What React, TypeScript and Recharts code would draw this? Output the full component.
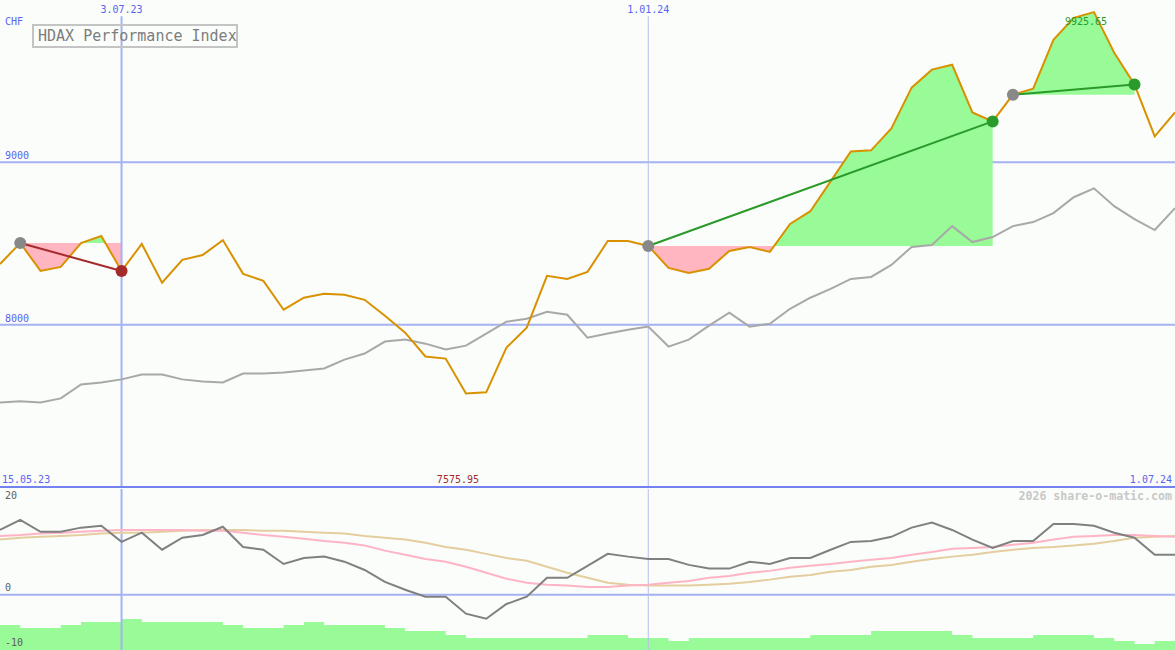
import React from "react";
import {
  ComposedChart,
  Line,
  Area,
  XAxis,
  YAxis,
  CartesianGrid,
  ReferenceLine,
  ReferenceDot,
} from "recharts";

// weekly closes, 15.05.23 .. 1.07.24
const price = [
  8374, 8503, 8331, 8356, 8503, 8546, 8331, 8497, 8258, 8399,
  8429, 8521, 8313, 8270, 8092, 8166, 8190, 8184, 8153, 8055,
  7951, 7804, 7791, 7575.95, 7583, 7859, 7982, 8301, 8282, 8325,
  8515, 8515, 8485, 8350, 8319, 8344, 8454, 8479, 8448, 8620,
  8699, 8883, 9067, 9074, 9209, 9460, 9571, 9601, 9307, 9252,
  9417, 9454, 9755, 9890, 9925.65, 9675, 9479, 9160, 9307,
];

// benchmark (HDAX Performance Index), same scale
const bench = [
  7521, 7528, 7521, 7546, 7632, 7644, 7663, 7693, 7693, 7663,
  7650, 7644, 7699, 7699, 7706, 7718, 7730, 7785, 7822, 7896,
  7908, 7883, 7847, 7871, 7945, 8018, 8037, 8080, 8061, 7920,
  7945, 7969, 7988, 7865, 7908, 7994, 8074, 7988, 8006, 8098,
  8166, 8221, 8282, 8294, 8368, 8479, 8491, 8607, 8509, 8540,
  8607, 8632, 8687, 8785, 8840, 8730, 8650, 8583, 8718,
];

// lower panel
const momentum = [
  14.1, 16.3, 13.7, 13.7, 14.6, 15.0, 11.5, 13.5, 9.8, 12.4,
  13.0, 14.8, 10.4, 9.8, 6.7, 8.0, 8.3, 7.2, 5.4, 2.8,
  1.1, -0.4, -0.4, -4.1, -5.2, -2.0, -0.4, 3.7, 3.7, 6.3,
  8.9, 8.3, 7.8, 7.8, 6.5, 5.7, 5.7, 7.2, 6.7, 8.0,
  8.0, 9.8, 11.5, 11.7, 12.6, 14.6, 15.7, 14.1, 12.0, 10.2,
  11.7, 11.7, 15.4, 15.4, 15.0, 13.5, 12.4, 8.7, 8.7,
];

const maFast = [
  12.8, 13.0, 13.3, 13.5, 13.7, 13.9, 14.1, 14.1, 14.1, 14.1,
  13.9, 13.9, 13.5, 13.0, 12.6, 12.2, 11.7, 11.3, 10.7, 9.6,
  8.7, 7.8, 7.2, 6.1, 4.8, 3.5, 2.6, 2.2, 2.0, 1.7,
  1.7, 2.0, 2.2, 2.6, 3.0, 3.7, 4.1, 4.8, 5.2, 5.9,
  6.3, 6.7, 7.2, 7.6, 8.0, 8.7, 9.3, 10.0, 10.2, 10.4,
  10.9, 11.3, 12.0, 12.6, 12.8, 13.0, 13.0, 12.8, 12.6,
];

const maSlow = [
  12.0, 12.4, 12.6, 12.8, 13.0, 13.3, 13.5, 13.5, 13.7, 13.9,
  14.1, 14.1, 14.1, 13.9, 13.9, 13.7, 13.5, 13.3, 12.8, 12.4,
  12.0, 11.3, 10.4, 9.8, 8.9, 8.0, 7.4, 6.1, 4.8, 3.7,
  2.6, 2.2, 2.0, 2.0, 2.0, 2.2, 2.4, 2.8, 3.3, 3.9,
  4.3, 5.0, 5.4, 6.1, 6.5, 7.2, 7.8, 8.3, 8.7, 9.3,
  9.8, 10.2, 10.4, 10.7, 11.1, 11.7, 12.4, 12.6, 12.8,
];

const volume = [
  25, 22, 22, 25, 28, 28, 31, 28, 28, 28,
  28, 25, 22, 22, 25, 28, 25, 25, 25, 22,
  19, 19, 15, 12, 12, 12, 12, 12, 12, 15,
  15, 12, 12, 9, 12, 12, 12, 12, 12, 12,
  15, 15, 15, 19, 19, 19, 19, 15, 12, 12,
  12, 15, 15, 15, 12, 9, 6, 9, 9,
];

// trades: entry / exit week index
const tradeEntry = [1, 32, 50];
const tradeExit = [6, 49, 56];

const dateTickIdx = [6, 32];
const dateTickLabels = ["3.07.23", "1.01.24"];
const startLabel = "15.05.23";
const endLabel = "1.07.24";
const gridValues = [8000, 9000];
const lowerLabels = [20, 0, -10];

const MONO = "'DejaVu Sans Mono', monospace";
const BG = "#FAFDFA";
const GRID = "#A6B2F2";
const BLUE_TXT = "#5A64F0";
const GAIN = "#98FB98";
const LOSS = "#FFB6C1";
const tradeColors = ["#A52A2A", "#2A9A2A", "#2A9A2A"];

const last = price.length - 1;
const minIdx = price.indexOf(Math.min(...price));
const maxIdx = price.indexOf(Math.max(...price));

const rows = price.map((p, i) => {
  const row: any = {
    i,
    price: p,
    bench: bench[i],
    mom: momentum[i],
    fast: maFast[i],
    slow: maSlow[i],
    vol: volume[i],
  };
  tradeEntry.forEach((s, k) => {
    const e = tradeExit[k];
    row[`fill${k}`] = i >= s && i <= e ? [price[s], p] : null;
    row[`trade${k}`] = i === s || i === e ? p : null;
  });
  return row;
});

const fillOffsets = tradeEntry.map((s, k) => {
  const seg = price.slice(s, tradeExit[k] + 1);
  const level = price[s];
  const hi = Math.max(level, ...seg);
  const lo = Math.min(level, ...seg);
  return (hi - level) / (hi - lo);
});

type Anchor = "start" | "middle" | "end";
const tag =
  (text: string, fill: string, anchor: Anchor, dx: number, dy: number, size = 10, weight: any = "normal") =>
  (p: any) => {
    const vb = p.viewBox || {};
    const cx = (vb.x ?? 0) + (vb.width ?? 0) / 2;
    const cy = (vb.y ?? 0) + (vb.height ?? 0) / 2;
    return (
      <text x={cx + dx} y={cy + dy} fill={fill} fontSize={size} fontFamily={MONO} fontWeight={weight} textAnchor={anchor}>
        {text}
      </text>
    );
  };

const mark = (key: string, x: number, y: number, content: any, yAxisId?: string) => (
  <ReferenceDot
    key={key}
    x={x}
    y={y}
    r={1}
    fill="none"
    stroke="none"
    ifOverflow="visible"
    label={content}
    {...(yAxisId ? { yAxisId } : {})}
  />
);

const tradeDot = (k: number) => (props: any) => {
  const { cx, cy, index, value } = props;
  if (cx == null || cy == null || value == null) return <g key={`t${k}-${index}`} />;
  const fill = index === tradeEntry[k] ? "#888888" : tradeColors[k];
  return <circle key={`t${k}-${index}`} cx={cx} cy={cy} r={6} fill={fill} stroke="none" />;
};

export default function App() {
  return (
    <div style={{ position: "absolute", left: 0, top: 0, width: 1175, height: 650, background: BG, overflow: "hidden" }}>
      <div style={{ position: "absolute", left: 0, top: 0 }}>
        <ComposedChart width={1175} height={489} data={rows} margin={{ top: 0, right: 0, bottom: 2, left: 0 }}>
          <defs>
            {fillOffsets.map((o, k) => (
              <linearGradient key={k} id={`fillGrad${k}`} x1="0" y1="0" x2="0" y2="1">
                <stop offset={o} stopColor={GAIN} />
                <stop offset={o} stopColor={LOSS} />
              </linearGradient>
            ))}
          </defs>
          <XAxis type="number" dataKey="i" domain={[0, last]} hide />
          <YAxis domain={[7000, 10000]} ticks={gridValues} hide allowDataOverflow />
          <CartesianGrid vertical={false} horizontalValues={gridValues} stroke={GRID} strokeWidth={2} />
          {dateTickIdx.map((x, k) => (
            <ReferenceLine
              key={`v${k}`}
              segment={[
                { x, y: 9900 },
                { x, y: 7000 },
              ]}
              stroke={k === 0 ? GRID : "#B6BEEE"}
              strokeWidth={k === 0 ? 2 : 1}
            />
          ))}
          {tradeEntry.map((s, k) => (
            <Area
              key={`f${k}`}
              dataKey={`fill${k}`}
              type="linear"
              stroke="none"
              fill={`url(#fillGrad${k})`}
              fillOpacity={1}
              dot={false}
              activeDot={false}
              isAnimationActive={false}
            />
          ))}
          <Line dataKey="bench" stroke="#A8A8A8" strokeWidth={2} dot={false} activeDot={false} isAnimationActive={false} />
          <Line dataKey="price" stroke="#D99100" strokeWidth={2} dot={false} activeDot={false} isAnimationActive={false} />
          {tradeEntry.map((s, k) => (
            <Line
              key={`t${k}`}
              dataKey={`trade${k}`}
              stroke={tradeColors[k]}
              strokeWidth={2}
              connectNulls
              dot={tradeDot(k)}
              activeDot={false}
              isAnimationActive={false}
            />
          ))}
          <ReferenceLine y={7000} stroke="#7482F0" strokeWidth={2} />
          {mark("chf", 0, 10000, tag("CHF", BLUE_TXT, "start", 5, 25))}
          {gridValues.map((g) => mark(`g${g}`, 0, g, tag(String(g), BLUE_TXT, "start", 5, -3)))}
          {dateTickIdx.map((x, k) => mark(`d${k}`, x, 10000, tag(dateTickLabels[k], BLUE_TXT, "middle", 0, 13)))}
          {mark("start", 0, 7000, tag(startLabel, BLUE_TXT, "start", 2, -4))}
          {mark("end", last, 7000, tag(endLabel, BLUE_TXT, "end", -3, -4))}
          {mark("min", minIdx, 7000, tag(price[minIdx].toFixed(2), "#A52A2A", "middle", -8, -4))}
          {mark("max", maxIdx, price[maxIdx], tag(price[maxIdx].toFixed(2), "#2A9A2A", "middle", -8, 13))}
        </ComposedChart>
      </div>

      <div
        style={{
          position: "absolute",
          left: 32,
          top: 24,
          width: 194,
          height: 20,
          border: "2px solid #C4C4C4",
          color: "#7C7C7C",
          fontFamily: MONO,
          fontSize: 15,
          fontWeight: "normal",
          lineHeight: "20px",
          paddingLeft: 4,
          paddingRight: 4,
          boxSizing: "content-box",
          whiteSpace: "nowrap",
        }}
      >
        HDAX Performance Index
      </div>

      <div style={{ position: "absolute", left: 0, top: 489 }}>
        <ComposedChart width={1175} height={161} data={rows} margin={{ top: 0, right: 0, bottom: 0, left: 0 }}>
          <XAxis type="number" dataKey="i" domain={[0, last]} hide />
          <YAxis domain={[-12, 23]} ticks={[0]} hide allowDataOverflow />
          <YAxis yAxisId="vol" domain={[0, 161]} hide />
          <CartesianGrid vertical={false} horizontalValues={[0]} stroke={GRID} strokeWidth={2} />
          {dateTickIdx.map((x, k) => (
            <ReferenceLine key={`lv${k}`} x={x} stroke={k === 0 ? GRID : "#B6BEEE"} strokeWidth={k === 0 ? 2 : 1} />
          ))}
          <Area
            yAxisId="vol"
            dataKey="vol"
            type="stepAfter"
            stroke="none"
            fill={GAIN}
            fillOpacity={1}
            dot={false}
            activeDot={false}
            isAnimationActive={false}
          />
          <Line dataKey="slow" stroke="#E4CD9E" strokeWidth={2} dot={false} activeDot={false} isAnimationActive={false} />
          <Line dataKey="fast" stroke="#FFB4C6" strokeWidth={2} dot={false} activeDot={false} isAnimationActive={false} />
          <Line dataKey="mom" stroke="#808080" strokeWidth={2} dot={false} activeDot={false} isAnimationActive={false} />
          {lowerLabels.map((v) => mark(`l${v}`, 0, v, tag(String(v), "#606060", "start", 5, v < 0 ? 5 : -4)))}
          {mark("wm", last, 23, tag("2026 share-o-matic.com", "#C8C8C8", "end", -3, 11, 11.6, "bold"))}
        </ComposedChart>
      </div>
    </div>
  );
}
